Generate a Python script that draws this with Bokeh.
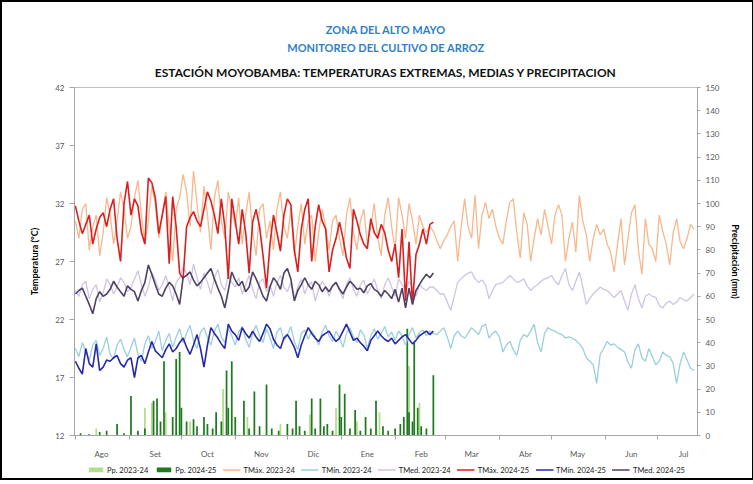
import numpy as np
from bokeh.plotting import figure
from bokeh.layouts import column
from bokeh.models import Range1d, LinearAxis, FixedTicker, Legend, LegendItem, Title
from bokeh.embed import file_html
from bokeh.resources import INLINE

FONT = "Lato"

# ---------------- data ----------------
meses = ["Ago", "Set", "Oct", "Nov", "Dic", "Ene", "Feb", "Mar", "Abr", "May", "Jun", "Jul"]
inicio_mes = [0, 31, 61, 92, 122, 153, 184, 213, 244, 274, 305, 335]   # day of season (1 Aug = 0)
temp_ticks = [12, 17, 22, 27, 32, 37, 42]
pp_ticks = list(range(0, 151, 10))

# 2024-25 daily series sampled every 2 days from 1 Aug 2024
tmax_2425 = [31.8, 30.5, 29.4, 30.2, 31.0, 28.5, 29.8, 30.8, 31.2, 30.0,
             31.5, 32.4, 29.0, 27.0, 32.0, 33.9, 31.0, 32.4, 31.8, 29.5,
             28.5, 34.2, 33.8, 32.5, 29.4, 31.0, 32.6, 26.8, 32.6, 30.0,
             26.0, 25.5, 30.0, 30.8, 31.3, 30.5, 30.0, 31.5, 33.0, 32.2,
             31.0, 29.4, 32.4, 30.0, 25.5, 32.4, 30.5, 28.5, 31.5, 29.5,
             26.0, 30.4, 31.5, 30.0, 27.5, 24.7, 28.5, 31.0, 29.5, 27.9,
             31.0, 32.4, 31.9, 28.0, 26.1, 29.8, 31.5, 32.4, 27.0, 30.0,
             31.9, 30.5, 29.8, 26.1, 28.0, 29.0, 30.4, 29.0, 27.3, 26.4,
             31.5, 30.5, 29.3, 28.5, 28.1, 30.7, 29.5, 29.0, 30.2, 29.5,
             28.0, 27.0, 28.5, 25.6, 29.8, 23.6, 28.7, 23.3, 27.6, 28.5,
             29.8, 28.5, 30.2, 30.4]
tmed_2425 = [24.2, 24.5, 24.7, 24.0, 23.3, 22.5, 23.8, 24.4, 24.0, 24.2,
             24.6, 25.3, 24.8, 24.4, 24.0, 24.9, 24.6, 24.4, 23.6, 24.5,
             25.2, 26.7, 25.9, 25.0, 24.2, 24.0, 24.7, 25.2, 24.9, 24.2,
             23.3, 25.6, 25.8, 26.1, 25.4, 24.9, 25.2, 25.6, 26.0, 26.4,
             25.5, 24.7, 24.0, 23.0, 24.5, 26.1, 25.4, 24.9, 25.3, 24.4,
             24.8, 26.1, 25.5, 24.8, 24.0, 23.6, 24.8, 25.6, 25.2, 24.6,
             26.0, 26.4, 25.5, 23.6, 24.5, 25.0, 25.6, 25.0, 24.6, 25.3,
             25.0, 24.4, 24.8, 24.4, 24.9, 25.2, 24.6, 24.2, 24.8, 25.3,
             25.0, 24.6, 24.7, 24.3, 24.9, 25.1, 24.6, 24.4, 24.0, 24.5,
             24.2, 23.8, 24.6, 23.5, 24.7, 23.0, 24.7, 23.3, 24.5, 25.0,
             25.5, 25.9, 25.6, 26.0]
tmin_2425 = [18.4, 17.8, 17.3, 19.5, 18.2, 17.9, 19.9, 17.6, 17.9, 18.5,
             18.4, 18.7, 18.9, 18.2, 17.9, 18.5, 18.7, 17.0, 18.7, 18.9,
             18.2, 19.2, 20.1, 19.3, 19.0, 18.7, 19.4, 19.9, 19.2, 19.5,
             20.0, 20.4, 19.6, 19.0, 19.8, 20.7, 19.5, 17.9, 19.8, 21.3,
             20.8, 20.4, 19.9, 19.5, 21.6, 21.0, 20.7, 20.2, 21.3, 20.8,
             20.4, 21.0, 20.5, 20.1, 20.8, 21.6, 21.2, 20.3, 19.8, 19.5,
             20.4, 20.7, 20.2, 19.6, 18.7, 19.8, 20.6, 21.3, 20.8, 20.4,
             20.1, 20.6, 20.8, 21.0, 20.5, 20.1, 20.4, 21.0, 21.6, 20.9,
             20.2, 20.4, 20.0, 19.7, 19.3, 20.2, 20.6, 21.0, 20.6, 20.3,
             20.1, 20.4, 19.9, 20.2, 20.5, 20.7, 20.3, 19.9, 20.2, 20.6,
             20.8, 21.0, 20.7, 21.0]

# 2023-24 daily series sampled every 2 days from 1 Aug 2023
tmax_2324 = [30.5, 29.0, 31.5, 32.0, 28.0, 30.0, 31.0, 27.5, 29.5, 32.5, 31.0, 28.5, 30.5, 33.0, 31.5, 29.0,
             30.0, 32.5, 34.0, 31.0, 28.5, 30.5, 33.5, 32.0, 29.0, 31.0, 33.0, 30.0, 27.0, 31.5, 32.5,
             34.5, 33.0, 30.0, 34.8, 32.0, 29.5, 33.5, 31.0, 28.0, 32.5, 34.0, 30.5, 29.0, 33.0, 31.5,
             30.0, 32.5, 28.5, 31.0, 33.0, 29.5, 27.5, 31.5, 32.0, 29.0, 30.5, 28.0, 31.5, 33.0, 30.0,
             29.0, 31.5, 27.5, 30.0, 32.0, 28.5, 30.5, 31.0, 27.0, 29.5, 31.5, 30.0, 28.0, 30.5, 31.0,
             29.0, 27.5, 31.0, 32.5, 29.5, 28.0, 30.5, 31.5, 28.5, 30.0, 32.0, 29.0, 27.5, 31.0, 32.5,
             30.0, 28.0, 32.5, 31.0, 29.0, 32.0, 30.5, 28.5, 31.0, 30.0, 29.5, 30.0,
             29.6, 28.8, 28.1, 28.8, 29.3, 30.0, 30.5, 27.0, 30.0, 32.4, 30.0, 29.0, 32.7, 28.1, 31.0,
             32.1, 30.7, 31.5, 30.0, 29.0, 28.5, 30.5, 32.1, 32.4, 29.5, 27.3, 31.2, 30.2, 27.0, 29.0,
             30.7, 29.3, 31.5, 30.0, 28.5, 31.0, 31.9, 31.0, 27.0, 29.0, 30.4, 27.8, 32.7, 30.5, 29.3,
             27.0, 29.0, 30.2, 29.3, 29.8, 28.5, 27.8, 26.1, 28.5, 30.7, 26.7, 29.0, 31.2, 31.9, 28.0,
             25.9, 30.7, 28.5, 28.1, 27.0, 31.0, 29.6, 28.5, 26.7, 29.5, 30.7, 28.7, 28.1, 29.0, 30.2,
             29.8]
tmed_2324 = [24.5, 24.0, 25.0, 25.3, 23.8, 24.6, 25.0, 23.5, 24.3, 25.5, 25.0, 24.2, 24.8, 25.6, 25.2, 24.4,
             24.8, 25.5, 26.2, 25.0, 24.0, 24.8, 26.0, 25.4, 24.5, 25.0, 25.8, 24.8, 23.6, 25.2, 25.6,
             26.5, 26.0, 25.0, 26.8, 25.6, 24.6, 26.0, 25.2, 24.2, 25.6, 26.3, 25.0, 24.5, 25.8, 25.2,
             24.8, 25.6, 24.2, 25.0, 25.8, 24.6, 23.8, 25.2, 25.5, 24.4, 25.0, 24.0, 25.2, 25.8, 24.8,
             24.4, 25.2, 23.8, 24.8, 25.5, 24.2, 25.0, 25.2, 23.6, 24.6, 25.3, 24.8, 24.0, 24.9, 25.2,
             24.5, 23.8, 25.0, 25.6, 24.6, 24.0, 25.0, 25.4, 24.2, 24.8, 25.5, 24.5, 23.8, 25.0, 25.6,
             24.8, 24.0, 25.5, 25.0, 24.4, 25.3, 24.8, 24.0, 25.0, 24.7, 24.5, 24.8,
             24.8, 24.5, 24.2, 24.2, 23.5, 22.8, 24.0, 25.2, 25.5, 25.8, 26.0, 26.1, 25.5, 25.2, 25.4,
             25.0, 23.8, 24.5, 25.0, 25.1, 25.2, 25.5, 25.8, 25.5, 25.2, 25.3, 25.5, 24.9, 24.5, 24.8,
             25.0, 25.3, 25.5, 25.6, 25.8, 25.3, 25.0, 25.8, 26.4, 25.0, 24.5, 25.3, 26.1, 24.8, 23.3,
             23.8, 24.2, 24.5, 24.8, 24.6, 24.5, 24.2, 23.9, 24.2, 24.5, 23.6, 22.8, 24.2, 25.0, 23.8,
             23.0, 24.0, 24.2, 24.0, 23.9, 23.2, 23.0, 23.4, 23.6, 23.3, 23.5, 23.9, 23.7, 23.6, 23.9,
             24.2]
tmin_2324 = [19.5, 18.8, 20.0, 19.2, 18.5, 19.8, 20.2, 18.9, 19.5, 20.5, 19.0, 18.6, 19.8, 20.3, 19.4, 18.8,
             19.6, 20.4, 19.0, 18.4, 19.9, 20.6, 19.5, 20.1, 21.0, 19.3, 20.2, 20.8, 19.6, 20.5, 21.2,
             20.0, 20.8, 21.5, 20.2, 19.5, 20.9, 21.3, 20.4, 19.8, 21.0, 21.6, 20.5, 20.0, 21.2, 20.6,
             19.8, 20.9, 21.4, 20.3, 19.6, 20.8, 21.5, 20.6, 20.0, 21.2, 20.4, 19.5, 20.9, 21.3, 20.2,
             20.7, 21.4, 20.1, 19.4, 20.8, 21.1, 20.3, 21.0, 20.5, 19.8, 20.9, 21.5, 20.6, 20.1, 21.0,
             20.4, 19.6, 20.8, 21.3, 20.5, 20.0, 21.1, 20.7, 19.5, 20.6, 21.2, 20.3, 20.8, 21.4, 20.5,
             20.9, 20.2, 21.0, 20.6, 19.8, 20.7, 21.3, 20.4, 20.9, 21.1, 20.6, 21.0,
             20.8, 20.7, 21.0, 21.3, 20.5, 19.5, 20.6, 21.0, 20.6, 20.4, 20.8, 21.3, 21.0, 20.7, 21.4,
             21.6, 20.4, 20.8, 21.0, 20.5, 19.2, 19.8, 20.1, 19.4, 18.9, 20.2, 20.7, 20.5, 21.0, 21.6,
             20.0, 19.2, 20.8, 21.3, 21.1, 21.0, 20.8, 20.7, 20.4, 20.5, 20.4, 20.2, 19.9, 19.5, 18.7,
             18.4, 18.1, 16.5, 19.0, 19.5, 20.1, 19.8, 19.9, 19.6, 19.4, 19.2, 18.3, 17.8, 19.4, 19.9,
             18.7, 18.4, 19.5, 18.8, 18.1, 18.4, 19.2, 18.9, 18.8, 18.2, 16.5, 18.2, 19.2, 18.5, 17.8,
             17.6]

# precipitation (day of season, mm)
pp_dia_2425 = [3, 8, 14, 18, 24, 28, 32, 36, 40, 45, 47, 49, 51, 56, 58, 60, 61, 64, 68, 70,
               74, 76, 79, 81, 84, 87, 88, 90, 92, 97, 100, 103, 106, 110, 113, 117, 122, 125, 127, 129,
               132, 136, 138, 141, 143, 145, 148, 152, 153, 155, 158, 161, 164, 167, 170, 173, 177, 180, 184, 187,
               189, 191, 192, 194, 195, 197, 199, 202, 206]
pp_mm_2425 = [1.0, 0.5, 1.5, 2.0, 5.0, 1.0, 17.0, 2.0, 3.0, 15.0, 16.0, 6.0, 32.0, 8.0, 33.0, 36.0, 12.0, 6.0, 7.0, 4.0,
              8.0, 5.0, 3.0, 10.0, 6.0, 28.0, 12.0, 32.0, 8.0, 15.0, 3.0, 19.0, 4.0, 22.0, 3.0, 2.0, 5.0, 3.0, 15.0, 4.0,
              2.0, 16.0, 3.0, 16.0, 4.0, 5.0, 2.0, 22.0, 8.0, 18.0, 3.0, 11.0, 2.0, 8.0, 3.0, 15.0, 4.0, 2.0, 3.0, 5.0,
              8.0, 46.0, 10.0, 6.0, 40.0, 12.0, 4.0, 3.0, 26.0]
pp_dia_2324 = [12, 40, 44, 52, 66, 85, 99, 118, 135, 150, 162, 175, 192, 198]
pp_mm_2324 = [3.0, 12.0, 14.0, 10.0, 6.0, 20.0, 8.0, 5.0, 9.0, 12.0, 6.0, 10.0, 30.0, 14.0]

series_names = ["Pp. 2023-24", "Pp. 2024-25", "TMáx. 2023-24", "TMín. 2023-24", "TMed. 2023-24",
                "TMáx. 2024-25", "TMín. 2024-25", "TMed. 2024-25"]

# ---------------- colours ----------------
C_TMAX23, C_TMIN23, C_TMED23 = "#F6B88C", "#9ACFDF", "#CFC4E4"
C_TMAX24, C_TMIN24, C_TMED24 = "#D92020", "#2828A8", "#4E4064"
C_PP23, C_PP24 = "#B3DD8C", "#1F7A1F"


def dias(vals):
    return 2 * np.arange(len(vals))


p = figure(width=750, height=459, x_range=Range1d(-0.5, 358), y_range=Range1d(12, 42),
           output_backend="svg", toolbar_location=None,
           min_border_left=72, min_border_right=55, min_border_top=85, min_border_bottom=22)
p.title.visible = False
p.extra_y_ranges = {"pp": Range1d(0, 150)}
p.xgrid.grid_line_color = None
p.ygrid.grid_line_color = None
p.outline_line_color = "#BFBFBF"
p.background_fill_color = "white"

# precipitation bars
p.vbar(x=pp_dia_2324, top=pp_mm_2324, width=1.0, y_range_name="pp", color=C_PP23, line_color=None)
p.vbar(x=pp_dia_2425, top=pp_mm_2425, width=1.0, y_range_name="pp", color=C_PP24, line_color=None)

# 2023-24 lines
p.line(dias(tmax_2324), tmax_2324, color=C_TMAX23, line_width=1.3)
p.line(dias(tmin_2324), tmin_2324, color=C_TMIN23, line_width=1.3)
p.line(dias(tmed_2324), tmed_2324, color=C_TMED23, line_width=1.3)
# 2024-25 lines
p.line(dias(tmax_2425), tmax_2425, color=C_TMAX24, line_width=1.6)
p.line(dias(tmin_2425), tmin_2425, color=C_TMIN24, line_width=1.6)
p.line(dias(tmed_2425), tmed_2425, color=C_TMED24, line_width=1.6)

# axes
ax = p.xaxis[0]
ax.ticker = FixedTicker(ticks=[s + 15 for s in inicio_mes], minor_ticks=inicio_mes)
ax.major_label_overrides = {s + 15: m for s, m in zip(inicio_mes, meses)}
ax.major_tick_line_color = None
ax.minor_tick_out = 4
ax.minor_tick_in = 0
ax.minor_tick_line_color = "#A6A6A6"
ax.axis_line_color = "#A6A6A6"
ax.major_label_text_font = FONT
ax.major_label_text_font_size = "8px"
ax.major_label_text_color = "#595959"
ax.major_label_standoff = 7

ay = p.yaxis[0]
ay.ticker = FixedTicker(ticks=temp_ticks)
ay.axis_label = "Temperatura (°C)"
ay.axis_label_text_font = FONT
ay.axis_label_text_font_size = "9px"
ay.axis_label_text_font_style = "bold"
ay.axis_label_text_color = "#000000"
ay.axis_label_standoff = 12
ay.major_label_text_font = FONT
ay.major_label_text_font_size = "8px"
ay.major_label_text_color = "#595959"
ay.axis_line_color = "#A6A6A6"
ay.major_tick_line_color = "#A6A6A6"
ay.major_tick_out = 5
ay.major_tick_in = 0
ay.minor_tick_line_color = None

ay2 = LinearAxis(y_range_name="pp", ticker=FixedTicker(ticks=pp_ticks),
                 axis_label="Precipitación (mm)")
ay2.axis_label_text_font = FONT
ay2.axis_label_text_font_size = "9px"
ay2.axis_label_text_font_style = "bold"
ay2.axis_label_text_color = "#000000"
ay2.axis_label_standoff = 8
ay2.major_label_text_font = FONT
ay2.major_label_text_font_size = "8px"
ay2.major_label_text_color = "#595959"
ay2.axis_line_color = "#A6A6A6"
ay2.major_tick_line_color = "#A6A6A6"
ay2.major_tick_out = 3
ay2.major_tick_in = 0
ay2.minor_tick_line_color = None
p.add_layout(ay2, "right")

# titles (first added is nearest the plot)
p.add_layout(Title(text="ESTACIÓN MOYOBAMBA: TEMPERATURAS EXTREMAS, MEDIAS Y PRECIPITACION",
                   align="center", text_font=FONT, text_font_size="12px",
                   text_font_style="bold", text_color="#111111", standoff=15), "above")
p.add_layout(Title(text="MONITOREO DEL CULTIVO DE ARROZ", align="center", text_font=FONT,
                   text_font_size="11px", text_font_style="bold", text_color="#2E7FC8",
                   standoff=3), "above")
p.add_layout(Title(text="ZONA DEL ALTO MAYO", align="center", text_font=FONT,
                   text_font_size="11px", text_font_style="bold", text_color="#2E7FC8",
                   standoff=3), "above")

# ---------------- legend strip (separate small figure) ----------------
# key swatches are drawn outside the strip's visible range; only the legend shows them
lg = figure(width=750, height=17, x_range=Range1d(0, 1), y_range=Range1d(0, 1),
            output_backend="svg", toolbar_location=None, x_axis_type=None, y_axis_type=None,
            min_border_left=72, min_border_right=55, min_border_top=0, min_border_bottom=0)
lg.title.visible = False
lg.outline_line_color = None
lg.xgrid.grid_line_color = None
lg.ygrid.grid_line_color = None
k_pp23 = lg.vbar(x=[-5], top=[-5], width=1, color=C_PP23, line_color=None)
k_pp24 = lg.vbar(x=[-5], top=[-5], width=1, color=C_PP24, line_color=None)
k_tx23 = lg.line(x=[-5, -4], y=[-5, -5], color=C_TMAX23, line_width=1.3)
k_tn23 = lg.line(x=[-5, -4], y=[-5, -5], color=C_TMIN23, line_width=1.3)
k_tm23 = lg.line(x=[-5, -4], y=[-5, -5], color=C_TMED23, line_width=1.3)
k_tx24 = lg.line(x=[-5, -4], y=[-5, -5], color=C_TMAX24, line_width=1.6)
k_tn24 = lg.line(x=[-5, -4], y=[-5, -5], color=C_TMIN24, line_width=1.6)
k_tm24 = lg.line(x=[-5, -4], y=[-5, -5], color=C_TMED24, line_width=1.6)
keys = [k_pp23, k_pp24, k_tx23, k_tn23, k_tm23, k_tx24, k_tn24, k_tm24]

legend = Legend(items=[LegendItem(label=n, renderers=[r]) for n, r in zip(series_names, keys)],
                orientation="horizontal", location="center",
                label_text_font=FONT, label_text_font_size="7.5px", label_text_color="#222222",
                glyph_width=18, glyph_height=6, spacing=6, label_standoff=3,
                padding=0, margin=0, border_line_color=None, background_fill_alpha=0)
lg.add_layout(legend, "center")

layout = column(p, lg, spacing=0, styles={"border": "2px solid #000000"})
open("out.html", "w").write(file_html(layout, INLINE))
